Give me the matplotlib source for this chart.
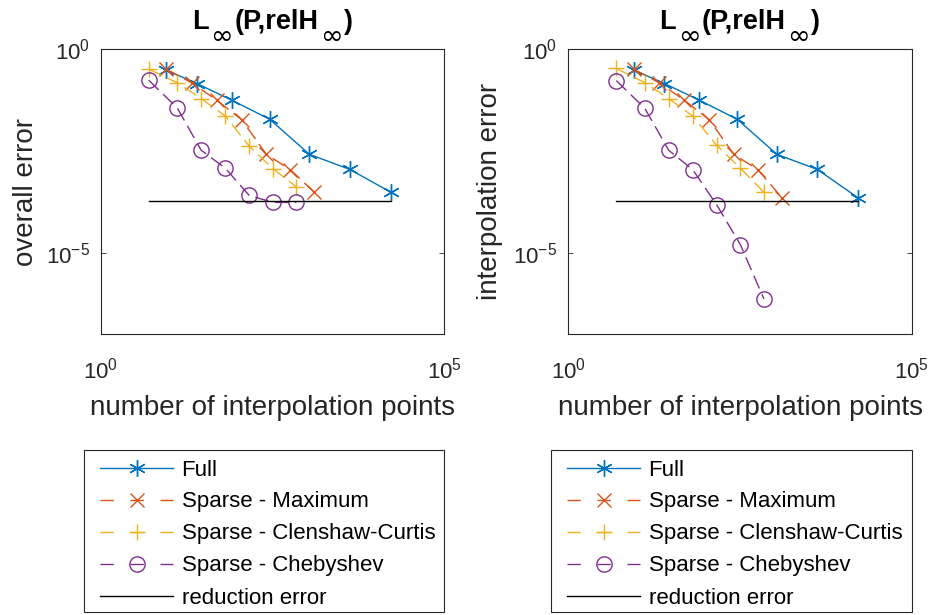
import matplotlib
matplotlib.use("Agg")
import matplotlib.pyplot as plt
from matplotlib.ticker import FixedLocator, FixedFormatter, NullLocator
from matplotlib.lines import Line2D
from matplotlib.patches import Rectangle
from matplotlib.transforms import IdentityTransform

plt.rcParams["font.family"] = ["Liberation Sans", "DejaVu Sans"]
plt.rcParams["mathtext.fontset"] = "custom"
plt.rcParams["mathtext.rm"] = "Liberation Sans"
plt.rcParams["mathtext.it"] = "Liberation Sans:italic"
plt.rcParams["mathtext.bf"] = "Liberation Sans:bold"
plt.rcParams["mathtext.default"] = "regular"

# ---- data -------------------------------------------------------------
n_full = [9, 25, 81, 289, 1089, 4225, 16641]
n_max = [9, 21, 49, 113, 257, 577, 1281]
n_cc = [5, 13, 29, 65, 145, 321, 705]
n_cheb = [5, 13, 29, 65, 145, 321, 705]

# overall error (left panel)
overall_full = [0.309, 0.1445, 0.0562, 0.01905, 0.00263, 0.00112, 0.000309]
overall_max = [0.324, 0.151, 0.0562, 0.0186, 0.00263, 0.0011, 0.000309]
overall_cc = [0.324, 0.151, 0.0617, 0.0229, 0.00417, 0.00117, 0.000417]
overall_cheb = [0.174, 0.0363, 0.00331, 0.0012, 0.000257, 0.000174, 0.000174]

# interpolation error (right panel)
interp_full = [0.309, 0.1445, 0.0562, 0.01905, 0.00263, 0.00112, 0.000224]
interp_max = [0.324, 0.151, 0.0562, 0.0186, 0.00263, 0.0011, 0.000229]
interp_cc = [0.339, 0.151, 0.0617, 0.0229, 0.00437, 0.0012, 0.000309]
interp_cheb = [0.17, 0.0355, 0.00331, 0.0011, 0.000151, 1.58e-05, 7.4e-07]

reduction_error = 0.000186

series_labels = ["Full", "Sparse - Maximum", "Sparse - Clenshaw-Curtis",
                 "Sparse - Chebyshev", "reduction error"]
# title pieces: (text, is_subscript)
title_pieces = [("L", False), ("\u221e", True), ("(P,relH", False), ("\u221e", True), (")", False)]
x_label = "number of interpolation points"
y_labels = ["overall error", "interpolation error"]
x_ticks = [1, 1e5]
x_ticklabels = [r"$10^{0}$", r"$10^{5}$"]
y_ticks = [1e-5, 1]
y_ticklabels = [r"$10^{-5}$", r"$10^{0}$"]

# ---- styles -----------------------------------------------------------
C_BLUE = "#0072BD"
C_ORANGE = "#D95319"
C_YELLOW = "#EDB120"
C_PURPLE = "#7E2F8E"
AX_GRAY = "#262626"
LW = 1.0
DASH = (10, 4.5)
TICK_FS = 16
LABEL_FS = 20
TITLE_FS = 19.5
LEGEND_FS = 16

W, H = 933, 615
fig = plt.figure(figsize=(W / 100, H / 100), dpi=100)


def frac(x0, y0, x1, y1):
    return [x0 / W, 1 - y1 / H, (x1 - x0) / W, (y1 - y0) / H]


ax1 = fig.add_axes(frac(100.7, 49.3, 444.3, 334.3))
ax2 = fig.add_axes(frac(568.3, 49.3, 911.7, 334.3))

styles = [
    dict(color=C_BLUE, marker=(6, 2, 0), ms=12, ls="-"),
    dict(color=C_ORANGE, marker="x", ms=10, ls="--", dashes=DASH),
    dict(color=C_YELLOW, marker="+", ms=12, ls="--", dashes=DASH),
    dict(color=C_PURPLE, marker="o", ms=11, ls="--", dashes=DASH, mfc="none"),
]


def draw_title(ax, baseline_px, sub_drop_px):
    renderer = fig.canvas.get_renderer()
    bb = ax.get_window_extent(renderer)
    cx = 0.5 * (bb.x0 + bb.x1)
    y_base = H - baseline_px
    texts, widths = [], []
    for s, is_sub in title_pieces:
        if is_sub:
            t = fig.text(0, 0, s, fontsize=TITLE_FS, fontweight="normal",
                         family="DejaVu Sans", color="black",
                         va="baseline", ha="left", transform=IdentityTransform())
        else:
            t = fig.text(0, 0, s, fontsize=TITLE_FS, fontweight="bold", color="black",
                         va="baseline", ha="left", transform=IdentityTransform())
        widths.append(t.get_window_extent(renderer).width + (3 if is_sub else 0))
        texts.append((t, is_sub))
    x = cx - sum(widths) / 2
    for (t, is_sub), w in zip(texts, widths):
        t.set_position((x + (1.5 if is_sub else 0), y_base - (sub_drop_px if is_sub else 0)))
        x += w


def draw_panel(ax, ys, ylabel, ylabel_x):
    xs = [n_full, n_max, n_cc, n_cheb]
    for x, y, st in zip(xs, ys, styles):
        ax.plot(x, y, lw=LW, mew=1.0, **st)
    xmin = min(min(v) for v in xs)
    xmax = max(max(v) for v in xs)
    ax.plot([xmin, xmax], [reduction_error, reduction_error], color="black", lw=LW)

    ax.set_xscale("log")
    ax.set_yscale("log")
    ax.set_xlim(1, 1e5)
    ax.set_ylim(1e-7, 1)
    ax.xaxis.set_major_locator(FixedLocator(x_ticks))
    ax.xaxis.set_major_formatter(FixedFormatter(x_ticklabels))
    ax.yaxis.set_major_locator(FixedLocator(y_ticks))
    ax.yaxis.set_major_formatter(FixedFormatter(y_ticklabels))
    ax.xaxis.set_minor_locator(NullLocator())
    ax.yaxis.set_minor_locator(NullLocator())
    ax.tick_params(axis="both", which="major", direction="in", length=3.5,
                   width=0.6, color=AX_GRAY, labelcolor=AX_GRAY, labelsize=TICK_FS,
                   top=True, right=True)
    ax.tick_params(axis="x", pad=17)
    ax.tick_params(axis="y", pad=8)
    for sp in ax.spines.values():
        sp.set_color(AX_GRAY)
        sp.set_linewidth(0.8)

    ax.set_xlabel(x_label, fontsize=LABEL_FS, color=AX_GRAY, va="center")
    ax.xaxis.set_label_coords(0.5, -0.259)
    ax.set_ylabel(ylabel, fontsize=LABEL_FS, color=AX_GRAY, va="center")
    ax.yaxis.set_label_coords(ylabel_x, 0.5)
    draw_title(ax, 29, 15)


draw_panel(ax1, [overall_full, overall_max, overall_cc, overall_cheb], y_labels[0], -0.217)
draw_panel(ax2, [interp_full, interp_max, interp_cc, interp_cheb], y_labels[1], -0.227)

# legend handles: dash, marker over middle dash, dash
LEG_DASH = (9.6, 12)
handles = [
    Line2D([], [], color=C_BLUE, lw=LW, marker=(6, 2, 0), ms=12, mew=1.0),
    Line2D([], [], color=C_ORANGE, lw=LW, marker="x", ms=10, mew=1.0, ls="--", dashes=LEG_DASH),
    Line2D([], [], color=C_YELLOW, lw=LW, marker="+", ms=12, mew=1.0, ls="--", dashes=LEG_DASH),
    Line2D([], [], color=C_PURPLE, lw=LW, marker="o", ms=11, mew=1.0, mfc="none", ls="--", dashes=LEG_DASH),
    Line2D([], [], color="black", lw=LW),
]

for box_x0, box_x1 in [(84, 444.3), (551, 911.7)]:
    box_y0, box_y1 = 449.5, 612.3
    fig.patches.append(Rectangle((box_x0 / W, 1 - box_y1 / H), (box_x1 - box_x0) / W,
                                 (box_y1 - box_y0) / H, transform=fig.transFigure,
                                 fill=False, edgecolor=AX_GRAY, lw=0.8))
    fig.legend(handles, series_labels, loc="upper left",
               bbox_to_anchor=((box_x0 + 16) / W, 1 - (box_y0 + 10) / H),
               frameon=False, fontsize=LEGEND_FS, borderpad=0, borderaxespad=0,
               handlelength=3.29, handletextpad=0.38, labelspacing=0.495,
               numpoints=1, labelcolor="black")

fig.savefig("out.png", dpi=100)
